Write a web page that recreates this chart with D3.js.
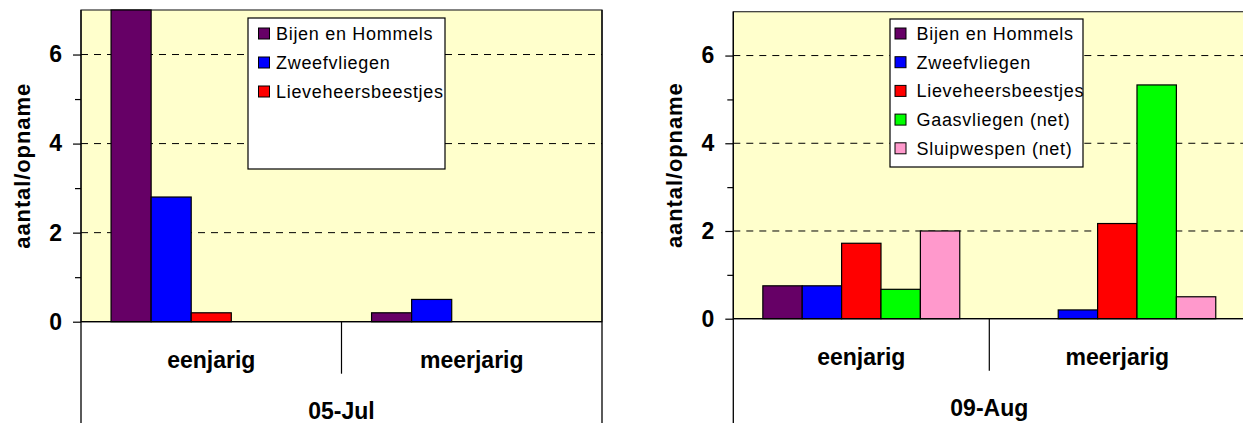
<!DOCTYPE html>
<html>
<head>
<meta charset="utf-8">
<script src="https://cdn.jsdelivr.net/npm/d3@7"></script>
<style>
  html, body { margin: 0; padding: 0; background: #fff; }
  svg { display: block; font-family: "Liberation Sans", Arial, sans-serif; }
</style>
</head>
<body>
<svg id="chart" width="1243" height="423"></svg>
<script>
// Insect counts per recording, annual vs perennial strips, on two dates
const categories = ["eenjarig", "meerjarig"];
const seriesNames = ["Bijen en Hommels", "Zweefvliegen", "Lieveheersbeestjes", "Gaasvliegen (net)", "Sluipwespen (net)"];
const seriesColors = ["#660066", "#0000ff", "#ff0000", "#00ff00", "#ff99cc"];

// 05-Jul (only the first three groups were counted)
const julBijen = [7.0, 0.2];
const julZweef = [2.8, 0.5];
const julLieve = [0.2, 0.0];
const julGaas = [null, null];
const julSluip = [null, null];

// 09-Aug
const augBijen = [0.75, 0.0];
const augZweef = [0.75, 0.2];
const augLieve = [1.72, 2.17];
const augGaas = [0.67, 5.33];
const augSluip = [2.0, 0.5];

const yMajorTicks = [0, 2, 4, 6];
const yMinorTicks = [1, 3, 5];
const yMax = 7;
const yTitle = "aantal/opname";

const svg = d3.select("#chart");

function drawPanel(opt) {
  const g = svg.append("g");
  const x = d3.scaleBand().domain(categories).range([opt.x0, opt.x1]).padding(0);
  const xs = d3.scaleBand().domain(d3.range(seriesNames.length))
    .range([0, x.bandwidth()]).paddingInner(0).paddingOuter(0.75);
  const y = d3.scaleLinear().domain([0, yMax]).range([opt.base, opt.top]);

  // plot area
  g.append("rect")
    .attr("x", opt.x0).attr("y", opt.top)
    .attr("width", opt.x1 - opt.x0).attr("height", opt.base - opt.top)
    .attr("fill", "#ffffcc").attr("stroke", "#333").attr("stroke-width", 1.2);

  // dashed gridlines
  g.selectAll(".grid").data(yMajorTicks.filter(d => d > 0)).join("line")
    .attr("x1", opt.x0).attr("x2", opt.x1)
    .attr("y1", d => y(d)).attr("y2", d => y(d))
    .attr("stroke", "#000").attr("stroke-width", 1)
    .attr("stroke-dasharray", "7,6");

  // bars
  const rows = [];
  opt.series.forEach((vals, si) => {
    vals.forEach((v, ci) => {
      if (v !== null && v > 0) rows.push({ cat: categories[ci], si, v });
    });
  });
  g.selectAll(".bar").data(rows).join("rect")
    .attr("x", d => x(d.cat) + xs(d.si))
    .attr("width", xs.bandwidth())
    .attr("y", d => y(d.v))
    .attr("height", d => y(0) - y(d.v))
    .attr("fill", d => seriesColors[d.si])
    .attr("stroke", "#000").attr("stroke-width", 1.2);

  // baseline and frame lines running down through the category area
  g.append("line").attr("x1", opt.x0).attr("x2", opt.x1)
    .attr("y1", opt.base).attr("y2", opt.base)
    .attr("stroke", "#000").attr("stroke-width", 1.3);
  g.append("line").attr("x1", opt.x0).attr("x2", opt.x0)
    .attr("y1", opt.top).attr("y2", 423)
    .attr("stroke", "#000").attr("stroke-width", 1.3);
  g.append("line").attr("x1", opt.x1).attr("x2", opt.x1)
    .attr("y1", opt.top).attr("y2", 423)
    .attr("stroke", "#000").attr("stroke-width", 1.3);
  // divider between categories
  g.append("line").attr("x1", opt.x0 + x.step()).attr("x2", opt.x0 + x.step())
    .attr("y1", opt.base).attr("y2", opt.base + 52)
    .attr("stroke", "#000").attr("stroke-width", 1.2);

  // y axis with major and minor ticks
  const yAxis = d3.axisLeft(y).tickValues(yMajorTicks).tickSize(8).tickPadding(11)
    .tickFormat(d3.format("d"));
  const ya = g.append("g").attr("transform", `translate(${opt.x0},0)`).call(yAxis);
  ya.select(".domain").remove();
  ya.selectAll("line").attr("stroke", "#000").attr("stroke-width", 1.2);
  ya.selectAll("text").attr("font-size", 23).attr("font-weight", "bold")
    .attr("font-family", "'Liberation Sans', Arial, sans-serif").attr("fill", "#000");
  const yMinor = d3.axisLeft(y).tickValues(yMinorTicks).tickSize(6).tickFormat("");
  const ym = g.append("g").attr("transform", `translate(${opt.x0},0)`).call(yMinor);
  ym.select(".domain").remove();
  ym.selectAll("line").attr("stroke", "#000").attr("stroke-width", 1.2);

  // y title
  g.append("text")
    .attr("transform", `translate(${opt.x0 - 59},${(opt.top + opt.base) / 2}) rotate(-90)`)
    .attr("text-anchor", "middle").attr("dy", "0.35em")
    .attr("font-size", 22).attr("font-weight", "bold")
    .attr("letter-spacing", 0.9)
    .text(yTitle);

  // category labels
  g.selectAll(".cat").data(categories).join("text")
    .attr("x", d => x(d) + x.bandwidth() / 2)
    .attr("y", opt.base + 38).attr("dy", "0.35em")
    .attr("text-anchor", "middle")
    .attr("font-size", 23).attr("font-weight", "bold")
    .text(d => d);

  // date label
  g.append("text")
    .attr("x", (opt.x0 + opt.x1) / 2).attr("y", opt.base + 89).attr("dy", "0.35em")
    .attr("text-anchor", "middle")
    .attr("font-size", 23).attr("font-weight", "bold")
    .text(opt.date);

  // legend
  const L = opt.legend;
  const lg = g.append("g").attr("transform", `translate(${L.x},${L.y})`);
  lg.append("rect").attr("width", L.w).attr("height", L.h)
    .attr("fill", "#fff").attr("stroke", "#000").attr("stroke-width", 1.2);
  const items = lg.selectAll(".item").data(seriesNames.slice(0, opt.shown)).join("g")
    .attr("transform", (d, i) => `translate(0,${L.first + i * L.step})`);
  items.append("rect")
    .attr("x", L.sw).attr("y", -5.5).attr("width", 11).attr("height", 11)
    .attr("fill", (d, i) => seriesColors[i]).attr("stroke", "#000").attr("stroke-width", 1);
  items.append("text")
    .attr("x", L.tx).attr("dy", "0.35em")
    .attr("font-size", 18).attr("letter-spacing", 0.7)
    .text(d => d);
}

drawPanel({
  x0: 81, x1: 602, top: 10, base: 321.7, date: "05-Jul", shown: 3,
  series: [julBijen, julZweef, julLieve, julGaas, julSluip],
  legend: { x: 248, y: 18, w: 197, h: 151, first: 15.5, step: 29, sw: 10.5, tx: 28 }
});
drawPanel({
  x0: 733.3, x1: 1245.3, top: 11.7, base: 318.7, date: "09-Aug", shown: 5,
  series: [augBijen, augZweef, augLieve, augGaas, augSluip],
  legend: { x: 890, y: 19, w: 193, h: 148, first: 14.5, step: 28.7, sw: 5, tx: 26.5 }
});
</script>
</body>
</html>
